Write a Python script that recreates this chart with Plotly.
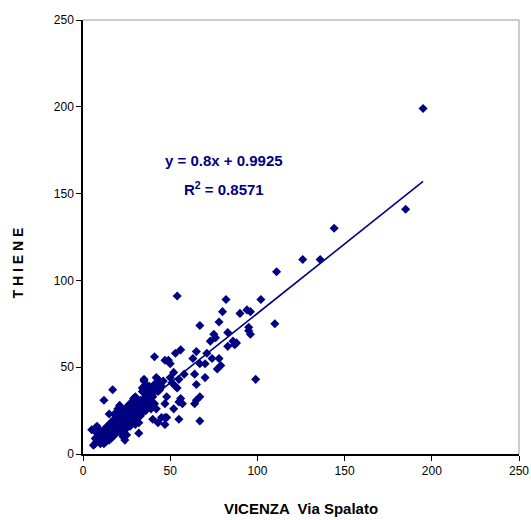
import plotly.graph_objects as go

# Data: VICENZA Via Spalato (x) vs THIENE (y)
vicenza = [
    5, 6, 7, 7, 8, 8, 8, 9, 9, 9, 10, 10, 10, 10, 11, 11, 11, 11, 12, 12, 12, 12, 12, 13, 13, 13, 13, 13, 14, 14, 14, 14, 14, 15, 15, 15, 15, 15, 15,
    16, 16, 16, 16, 16, 17, 17, 17, 17, 17, 17, 18, 18, 18, 18, 18, 18, 19, 19, 19, 19, 19, 20, 20, 20, 20, 20, 20, 21, 21, 21, 21, 21, 21,
    22, 22, 22, 22, 22, 22, 23, 23, 23, 23, 23, 23, 24, 24, 24, 24, 24, 24, 25, 25, 25, 25, 25, 25, 25,
    26, 26, 26, 26, 26, 27, 27, 27, 27, 27, 27, 28, 28, 28, 28, 28, 29, 29, 29, 29, 29, 30, 30, 30, 30, 30, 30,
    31, 31, 31, 31, 32, 32, 32, 32, 32, 33, 33, 33, 33, 34, 34, 34, 34, 34, 35, 35, 35, 35, 35, 35,
    36, 36, 36, 36, 37, 37, 37, 37, 38, 38, 38, 38, 39, 39, 39, 39, 40, 40, 40, 40, 41, 41, 41, 41,
    42, 42, 42, 42, 43, 43, 43, 43, 44, 44, 44, 45, 45, 46,
    47, 47, 47, 47, 48, 48, 49, 50, 50, 51, 52, 52, 53, 53, 54, 54, 55, 55, 55, 56, 56, 57, 58,
    63, 64, 64, 65, 65, 65, 67, 67, 67, 67, 70, 70, 71, 73, 74, 75, 76, 77, 78, 78, 79, 80, 82,
    83, 83, 86, 87, 88, 90, 94, 95, 95, 96, 96, 99, 102, 110, 111, 126, 136, 144, 185, 195,
]
thiene = [
    14, 5, 6, 9, 7, 12, 16, 8, 10, 14, 6, 9, 11, 13, 7, 8, 10, 12, 6, 9, 11, 14, 31, 7, 10, 12, 15, 8, 9, 11, 13, 16, 10, 8, 12, 14, 17, 23, 10,
    11, 13, 15, 18, 9, 12, 14, 16, 19, 37, 10, 13, 15, 17, 20, 23, 11, 14, 16, 18, 21, 12, 15, 17, 19, 22, 26, 13, 16, 18, 20, 23, 28, 14,
    15, 17, 19, 21, 24, 12, 16, 18, 20, 22, 25, 10, 17, 19, 21, 23, 8, 14, 18, 20, 22, 24, 27, 11, 15,
    19, 21, 23, 25, 17, 20, 22, 24, 26, 29, 16, 21, 23, 25, 30, 18, 22, 24, 27, 32, 19, 23, 25, 28, 33, 20, 17,
    24, 26, 29, 21, 25, 27, 30, 12, 18, 26, 28, 31, 22, 27, 30, 36, 38, 24, 29, 32, 39, 42, 26, 43,
    30, 34, 37, 25, 33, 36, 28, 39, 32, 35, 27, 39, 34, 37, 30, 26, 33, 36, 39, 20, 29, 56, 38, 40,
    37, 41, 44, 26, 36, 39, 43, 18, 38, 40, 37, 21, 39, 42,
    17, 21, 29, 54, 33, 21, 54, 52, 44, 41, 26, 47, 39, 58, 91, 38, 20, 30, 43, 32, 60, 29, 46,
    55, 29, 46, 31, 40, 59, 19, 33, 52, 74, 44, 52, 58, 65, 55, 69, 67, 49, 55, 76, 51, 82, 89,
    62, 70, 65, 63, 64, 81, 83, 71, 73, 69, 82, 43, 89, 75, 105, 112, 112, 130, 141, 199,
]

# Linear trendline as stated on the chart
slope = 0.8
intercept = 0.9925
r_squared = 0.8571

x_ticks = [0, 50, 100, 150, 200, 250]
y_ticks = [0, 50, 100, 150, 200, 250]

navy = "#000080"
font_family = "Liberation Sans, Arial, sans-serif"

x_line = [min(vicenza), max(vicenza)]
y_line = [slope * v + intercept for v in x_line]

fig = go.Figure()
fig.add_trace(go.Scatter(
    x=vicenza, y=thiene, mode="markers",
    marker=dict(symbol="diamond", size=7, color=navy, line=dict(width=0)),
    showlegend=False, hoverinfo="x+y",
))
fig.add_trace(go.Scatter(
    x=x_line, y=y_line, mode="lines",
    line=dict(color=navy, width=1.6),
    showlegend=False, hoverinfo="skip",
))

fig.update_layout(
    width=531, height=520,
    margin=dict(l=83, r=12, t=20, b=66),
    paper_bgcolor="white", plot_bgcolor="white",
    font=dict(family=font_family, size=12, color="black"),
    xaxis=dict(
        range=[0, 250], tickvals=x_ticks, ticktext=[str(t) for t in x_ticks],
        showgrid=False, zeroline=False, showline=True, linecolor="black", linewidth=1.5,
        ticks="outside", ticklen=5, tickcolor="black", tickfont=dict(size=12),
        automargin=False,
        title=dict(text="<b>VICENZA  Via Spalato</b>", font=dict(size=15, family=font_family), standoff=26),
    ),
    yaxis=dict(
        range=[0, 250], tickvals=y_ticks, ticktext=[str(t) for t in y_ticks],
        showgrid=False, zeroline=False, showline=True, linecolor="black", linewidth=1.5,
        ticks="outside", ticklen=5, tickcolor="black", tickfont=dict(size=12),
        automargin=False,
    ),
    shapes=[
        dict(type="line", xref="paper", yref="paper", x0=0, x1=1, y0=1, y1=1, line=dict(color="#999999", width=1)),
        dict(type="line", xref="paper", yref="paper", x0=1, x1=1, y0=0, y1=1, line=dict(color="#999999", width=1)),
    ],
)
# Y axis title (placed as rotated text, lower than centre as in the reference)
fig.add_annotation(
    x=-0.148, y=0.44, xref="x domain", yref="y domain", showarrow=False,
    xanchor="center", yanchor="middle",
    text="<b>T H I E N E</b>", textangle=-90,
    font=dict(size=14, color="black", family=font_family),
)
# Equation and R^2 text
fig.add_annotation(
    x=81, y=169, xref="x", yref="y", showarrow=False,
    text=f"<b>y = {slope}x + {intercept}</b>", font=dict(size=15, color=navy, family=font_family),
)
fig.add_annotation(
    x=81, y=153, xref="x", yref="y", showarrow=False,
    text=f"<b>R<sup>2</sup> = {r_squared}</b>", font=dict(size=15, color=navy, family=font_family),
)

fig.write_html("out.html")
